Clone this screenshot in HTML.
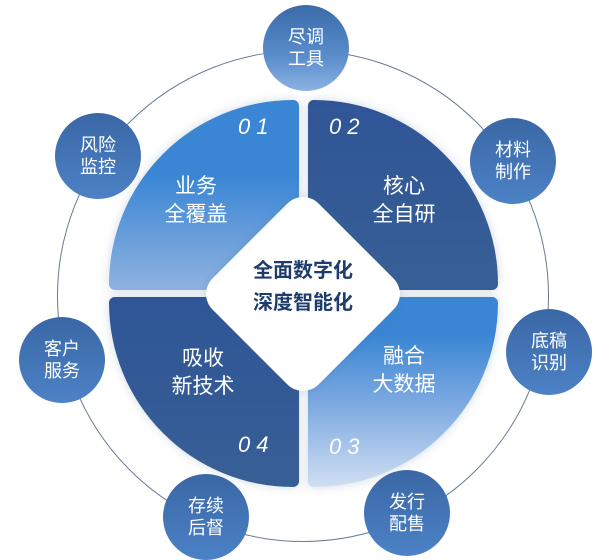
<!DOCTYPE html>
<html><head><meta charset="utf-8"><style>
body{margin:0;width:612px;height:560px;background:#fff;position:relative;overflow:hidden;font-family:"Liberation Sans","Noto Sans CJK SC",sans-serif}
.ring{position:absolute;left:57px;top:50px;width:492px;height:492px;border-radius:50%;border:1.5px solid #6b7a95;box-sizing:border-box}
.q{position:absolute;width:190px;height:190px;box-shadow:0 0 10px rgba(80,110,150,.25)}
.sc{position:absolute;width:86px;height:86px;border-radius:50%;background:linear-gradient(#3a67a5,#4c82c6);color:#fff;font-size:18px;line-height:22px;text-align:center;display:flex;align-items:center;justify-content:center}
.t{position:absolute;color:#fff;font-size:21px;line-height:28px;text-align:center;width:120px}
.n{position:absolute;color:#fff;font-size:22px;font-style:italic;letter-spacing:6px}
</style></head><body>
<div class="ring"></div>
<div class="q" style="left:109px;top:100px;background:linear-gradient(#3a86d4 40%,#8fb2e0);border-radius:190px 6px 4px 6px"></div>
<div class="q" style="left:308px;top:100px;background:linear-gradient(#2f5597,#385f95);border-radius:6px 190px 6px 4px"></div>
<div class="q" style="left:308px;top:297px;background:linear-gradient(#3a86d4 20%,#7aa8e0 55%,#cfdff2);border-radius:4px 6px 190px 6px"></div>
<div class="q" style="left:109px;top:297px;background:linear-gradient(#2f5597,#385f95);border-radius:6px 4px 6px 190px"></div>
<div style="position:absolute;left:228px;top:219px;width:150px;height:150px;background:#fff;border-radius:22px;transform:rotate(45deg);box-shadow:0 0 8px rgba(80,110,150,.2)"></div>
<div style="position:absolute;left:203px;top:255px;width:200px;text-align:center;color:#1f3d6b;font-weight:bold;font-size:20px;line-height:32px">全面数字化<br>深度智能化</div>
<div class="t" style="left:136px;top:173px">业务<br>全覆盖</div>
<div class="t" style="left:344px;top:173px">核心<br>全自研</div>
<div class="t" style="left:344px;top:343px">融合<br>大数据</div>
<div class="t" style="left:143px;top:345px">吸收<br>新技术</div>
<div class="n" style="left:238px;top:114px">01</div>
<div class="n" style="left:329px;top:114px">02</div>
<div class="n" style="left:329px;top:434px">03</div>
<div class="n" style="left:238px;top:432px">04</div>
<div class="sc" style="left:263px;top:5px;background:linear-gradient(#3a6aa8,#5a8dcc 60%,#8ab2e2)">尽调<br>工具</div>
<div class="sc" style="left:55px;top:113px">风险<br>监控</div>
<div class="sc" style="left:470px;top:118px">材料<br>制作</div>
<div class="sc" style="left:19px;top:317px">客户<br>服务</div>
<div class="sc" style="left:506px;top:309px">底稿<br>识别</div>
<div class="sc" style="left:163px;top:474px">存续<br>后督</div>
<div class="sc" style="left:364px;top:470px">发行<br>配售</div>
</body></html>
